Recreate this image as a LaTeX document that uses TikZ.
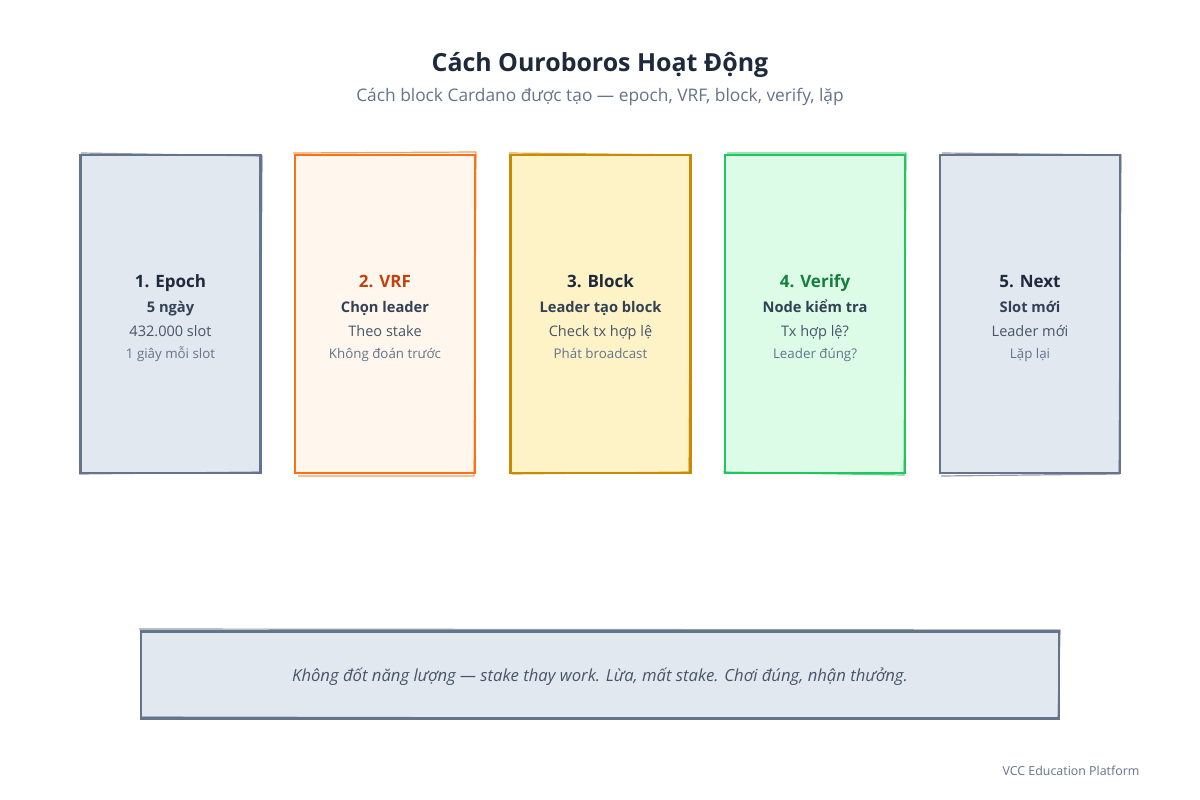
\documentclass[tikz,border=0pt]{standalone}
\usepackage{fontspec}
\setmainfont{Open Sans}
\definecolor{slatefill}{HTML}{E2E8F0}
\definecolor{slatestroke}{HTML}{64748B}
\definecolor{orfill}{HTML}{FFF7ED}
\definecolor{orstroke}{HTML}{F97316}
\definecolor{ortext}{HTML}{C2410C}
\definecolor{yefill}{HTML}{FEF3C7}
\definecolor{yestroke}{HTML}{CA8A04}
\definecolor{grfill}{HTML}{DCFCE7}
\definecolor{grstroke}{HTML}{22C55E}
\definecolor{grtext}{HTML}{15803D}
\definecolor{ink}{HTML}{1E293B}
\definecolor{ink2}{HTML}{334155}
\definecolor{ink3}{HTML}{475569}
\definecolor{ink4}{HTML}{64748B}
\begin{document}
\begin{tikzpicture}[x=0.75pt,y=-0.75pt,
  card/.style={draw=#1,line width=1.9pt,minimum width=135pt,minimum height=238.5pt,inner sep=0pt},
  rough/.style={draw=#1,line width=0.9pt,opacity=0.7},
  ttl/.style={anchor=base,font=\bfseries\fontsize{12.75}{15}\selectfont},
  sub/.style={anchor=base,font=\bfseries\fontsize{11}{13}\selectfont,text=ink2},
  l3/.style={anchor=base,font=\fontsize{10.9}{12}\selectfont,text=ink3},
  l4/.style={anchor=base,font=\fontsize{10}{11}\selectfont,text=ink4}]
\useasboundingbox (0,0) rectangle (1200,800);
\fill[white] (0,0) rectangle (1200,800);
\node[anchor=base,font=\bfseries\fontsize{18.7}{22}\selectfont,text=ink] (title) at (600,71) {Cách Ouroboros Hoạt Động};
\node[anchor=base,font=\fontsize{13}{15}\selectfont,text=ink4] (subtitle) at (600,101) {Cách block Cardano được tạo — epoch, VRF, block, verify, lặp};
% cards
\node[card=slatestroke,fill=slatefill] (c1) at (170.5,314) {};
\node[card=orstroke,fill=orfill] (c2) at (385,314) {};
\node[card=yestroke,fill=yefill] (c3) at (600.5,314) {};
\node[card=grstroke,fill=grfill] (c4) at (815,314) {};
\node[card=slatestroke,fill=slatefill] (c5) at (1030,314) {};
% rough second strokes
\draw[rough=slatestroke] (81,153) -- (262,156) -- (260,472) -- (79,474);
\draw[rough=orstroke] (293,153) -- (476,152) -- (474,476) -- (298,476);
\draw[rough=yestroke] (509,153) -- (691,155) -- (689,472) -- (512,474);
\draw[rough=grstroke] (727,153) -- (906,153) -- (904,475) -- (723,472);
\draw[rough=slatestroke] (942,153) -- (1121,155) -- (1119,474) -- (941,476);
% card texts
\node[ttl,text=ink] (t1) at (170.5,287) {1. Epoch};
\node[sub] (s1) at (170.5,312) {5 ngày};
\node[l3] (a1) at (170.5,336) {432.000 slot};
\node[l4] (b1) at (170.5,358) {1 giây mỗi slot};
\node[ttl,text=ortext] (t2) at (385,287) {2. VRF};
\node[sub] (s2) at (385,312) {Chọn leader};
\node[l3] (a2) at (385,336) {Theo stake};
\node[l4] (b2) at (385,358) {Không đoán trước};
\node[ttl,text=ink] (t3) at (600.5,287) {3. Block};
\node[sub] (s3) at (600.5,312) {Leader tạo block};
\node[l3] (a3) at (600.5,336) {Check tx hợp lệ};
\node[l4] (b3) at (600.5,358) {Phát broadcast};
\node[ttl,text=grtext] (t4) at (815,287) {4. Verify};
\node[sub] (s4) at (815,312) {Node kiểm tra};
\node[l3] (a4) at (815,336) {Tx hợp lệ?};
\node[l4] (b4) at (815,358) {Leader đúng?};
\node[ttl,text=ink] (t5) at (1030,287) {5. Next};
\node[sub] (s5) at (1030,312) {Slot mới};
\node[l3] (a5) at (1030,336) {Leader mới};
\node[l4] (b5) at (1030,358) {Lặp lại};
% bottom note
\node[draw=slatestroke,fill=slatefill,line width=1.9pt,minimum width=688.5pt,minimum height=65pt,inner sep=0pt] (note) at (600,675) {};
\draw[rough=slatestroke] (139,629) -- (1060,630) -- (1058,719) -- (142,717);
\node[anchor=base,font=\itshape\fontsize{12.5}{14}\selectfont,text=ink3] (notetext) at (600,681) {Không đốt năng lượng — stake thay work. Lừa, mất stake. Chơi đúng, nhận thưởng.};
\node[anchor=base,font=\fontsize{9.3}{10}\selectfont,text=ink4] (footer) at (1071,775) {VCC Education Platform};
\end{tikzpicture}
\end{document}
